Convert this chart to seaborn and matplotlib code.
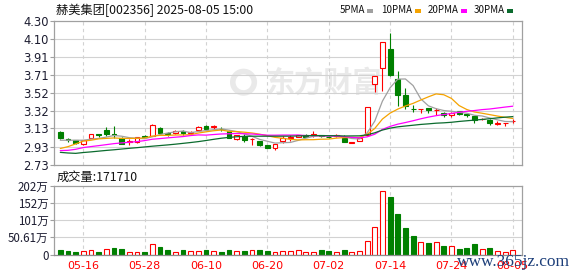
import numpy as np
import pandas as pd
import matplotlib
matplotlib.use("Agg")
import matplotlib.pyplot as plt
from matplotlib.patches import Rectangle
import seaborn as sns

# ---------------- data ----------------
dates = ["05-13", "05-14", "05-15", "05-16", "05-19", "05-20", "05-21", "05-22", "05-23",
         "05-26", "05-27", "05-28", "05-29", "05-30", "06-03", "06-04", "06-05", "06-06",
         "06-09", "06-10", "06-11", "06-12", "06-13", "06-16", "06-17", "06-18", "06-19",
         "06-20", "06-23", "06-24", "06-25", "06-26", "06-27", "06-30", "07-01", "07-02",
         "07-03", "07-04", "07-07", "07-08", "07-09", "07-10", "07-11", "07-14", "07-15",
         "07-16", "07-17", "07-18", "07-21", "07-22", "07-23", "07-24", "07-25", "07-28",
         "07-29", "07-30", "07-31", "08-01", "08-04", "08-05"]

opens = [3.09, 3.01, 3.00, 2.96, 3.02, 3.065, 3.11, 3.07, 3.02, 2.98,
         2.98, 3.045, 3.05, 3.13, 3.075, 3.08, 3.10, 3.08, 3.11, 3.16,
         3.14, 3.125, 3.10, 3.01, 3.05, 3.01, 2.99, 2.95, 2.91, 2.99,
         3.025, 3.03, 3.06, 3.06, 3.055, 3.035, 3.05, 3.02, 2.97, 2.99,
         3.06, 3.61, 3.79, 4.00, 3.67, 3.49, 3.345, 3.34, 3.35, 3.33,
         3.30, 3.27, 3.32, 3.285, 3.26, 3.23, 3.22, 3.18, 3.185, 3.205]
highs = [3.10, 3.02, 3.00, 3.00, 3.07, 3.07, 3.14, 3.15, 3.03, 3.01,
         3.03, 3.06, 3.18, 3.14, 3.09, 3.11, 3.11, 3.10, 3.15, 3.17,
         3.17, 3.14, 3.11, 3.06, 3.07, 3.02, 2.99, 2.95, 2.96, 3.05,
         3.06, 3.06, 3.07, 3.10, 3.06, 3.05, 3.07, 3.06, 2.98, 3.02,
         3.36, 3.70, 4.07, 4.17, 3.75, 3.57, 3.38, 3.345, 3.35, 3.35,
         3.31, 3.31, 3.32, 3.29, 3.26, 3.24, 3.23, 3.21, 3.19, 3.23]
lows = [3.01, 2.98, 2.96, 2.95, 3.02, 3.04, 3.05, 3.02, 2.96, 2.95,
        2.97, 3.02, 3.05, 3.07, 3.05, 3.07, 3.06, 3.06, 3.11, 3.12,
        3.12, 3.10, 3.02, 3.00, 2.98, 2.95, 2.94, 2.92, 2.89, 2.97,
        2.99, 3.03, 3.04, 3.03, 3.03, 3.02, 3.04, 2.98, 2.97, 2.99,
        3.06, 3.53, 3.54, 3.70, 3.37, 3.34, 3.31, 3.30, 3.30, 3.27,
        3.25, 3.25, 3.27, 3.25, 3.19, 3.22, 3.17, 3.17, 3.15, 3.19]
closes = [3.02, 3.00, 2.97, 3.00, 3.07, 3.06, 3.07, 3.06, 2.96, 2.99,
          3.03, 3.04, 3.17, 3.08, 3.07, 3.10, 3.08, 3.085, 3.14, 3.12,
          3.15, 3.12, 3.02, 3.06, 3.00, 3.015, 2.95, 2.92, 2.96, 3.02,
          3.03, 3.06, 3.04, 3.065, 3.05, 3.03, 3.055, 2.98, 2.98, 3.02,
          3.36, 3.70, 4.07, 3.71, 3.49, 3.37, 3.34, 3.345, 3.33, 3.335,
          3.27, 3.30, 3.29, 3.28, 3.22, 3.232, 3.19, 3.19, 3.19, 3.21]

# volume in 万
volumes = [12, 10, 6, 9, 12, 6, 15, 18, 16, 8,
           8, 6, 32, 21, 13, 8, 12, 11, 11, 12,
           10, 6, 12, 9, 9, 12, 12, 10, 8, 11,
           9, 14, 8, 8, 12, 9, 8, 12, 6, 11,
           39, 81, 186, 171, 118, 79, 55, 37, 34, 37,
           26, 26, 17, 20, 31, 16, 20, 10, 8, 13]
vol_up = [0, 0, 0, 1, 1, 0, 1, 0, 0, 1,
          1, 0, 1, 0, 0, 1, 0, 1, 1, 0,
          1, 0, 0, 1, 0, 1, 0, 0, 1, 1,
          1, 1, 1, 1, 0, 0, 1, 0, 1, 1,
          1, 1, 1, 0, 0, 0, 0, 1, 0, 1,
          0, 1, 0, 0, 0, 1, 0, 1, 1, 1]

# moving-average values before enough history is inside the window
ma5_head = [3.00, 3.00, 3.00, 3.00]
ma10_head = [2.91, 2.93, 2.96, 2.99, 3.00, 3.015, 3.02, 3.025, 3.02]
ma20_head = [2.887, 2.890, 2.901, 2.920, 2.931, 2.941, 2.952, 2.963, 2.971, 2.978,
             2.985, 2.996, 3.011, 3.018, 3.026, 3.033, 3.040, 3.051, 3.058]
ma30_head = [2.868, 2.861, 2.857, 2.866, 2.873, 2.881, 2.889, 2.896, 2.904, 2.912,
             2.919, 2.927, 2.935, 2.942, 2.949, 2.957, 2.966, 2.975, 2.985, 2.997,
             3.010, 3.022, 3.031, 3.038, 3.042, 3.044, 3.044, 3.044, 3.044]

price_ticks = [2.73, 2.93, 3.13, 3.32, 3.52, 3.71, 3.91, 4.10, 4.30]
vol_ticks = [0, 50.61, 101, 152, 202]
vol_tick_labels = ["0", "50.61万", "101万", "152万", "202万"]
label_dates = ["05-16", "05-28", "06-10", "06-20", "07-02", "07-14", "07-24", "08-05"]

title = "赫美集团[002356] 2025-08-05 15:00"
vol_title = "成交量:171710"
ma_names = ["5PMA", "10PMA", "20PMA", "30PMA"]

# ---------------- styling ----------------
sns.set_theme(style="white")
CJK = ["Noto Sans CJK SC", "DejaVu Sans"]
plt.rcParams["font.family"] = ["DejaVu Sans", "Noto Sans CJK SC"]

RED = "#ff0000"
GREEN = "#008000"
MA_COLORS = ["#a0a0a0", "#f5a300", "#ff00ff", "#0b6b2e"]
GRID = "#d2d2d2"
FRAME = "#a0a0a0"

df = pd.DataFrame({"date": dates, "open": opens, "high": highs, "low": lows,
                   "close": closes, "vol": volumes, "vup": vol_up})
df["i"] = np.arange(len(df))
for n, head in [(5, ma5_head), (10, ma10_head), (20, ma20_head), (30, ma30_head)]:
    ma = df["close"].rolling(n).mean()
    ma.iloc[:n - 1] = head
    df[f"ma{n}"] = ma

W, H = 578, 276
fig = plt.figure(figsize=(W / 100, H / 100), dpi=100)
fig.patch.set_facecolor("white")

L, R = 54, 522
ax = fig.add_axes([L / W, 1 - 165 / H, (R - L) / W, 144 / H])
axv = fig.add_axes([L / W, 1 - 254.5 / H, (R - L) / W, 68.5 / H])

xlim = (-0.82, 60.2)
label_idx = [dates.index(d) for d in label_dates]

# watermark (logo ring + name)
ax.scatter([0.405], [0.575], s=240, transform=ax.transAxes, facecolor="none",
           edgecolor="#e9e9e9", linewidth=4, zorder=0)
ax.text(0.575, 0.575, "东方财富", transform=ax.transAxes, fontsize=21,
        color="#e9e9e9", fontweight="bold", family=CJK, ha="center", va="center", zorder=0)

# grid
for a in (ax, axv):
    for xi in label_idx:
        a.axvline(xi, color=GRID, lw=0.8, ls=(0, (3, 3)), zorder=0.5)
for yv in price_ticks[1:-1]:
    ax.axhline(yv, color=GRID, lw=0.8, zorder=0.5)
for yv in vol_ticks[1:-1]:
    axv.axhline(yv, color=GRID, lw=0.8, zorder=0.5)

# candles
x = df["i"].to_numpy()
o = df["open"].to_numpy(); c = df["close"].to_numpy()
h = df["high"].to_numpy(); lo = df["low"].to_numpy()
up = c >= o
top = np.maximum(o, c); bot = np.minimum(o, c)
bh = np.maximum(top - bot, 0.004)
bw = 0.64
ax.vlines(x[up], top[up], h[up], color=RED, lw=0.8, zorder=2)
ax.vlines(x[up], lo[up], bot[up], color=RED, lw=0.8, zorder=2)
ax.bar(x[up], bh[up], bottom=bot[up], width=bw, facecolor="white",
       edgecolor=RED, linewidth=0.8, zorder=2)
dn = ~up
ax.vlines(x[dn], lo[dn], h[dn], color=GREEN, lw=0.8, zorder=2)
ax.bar(x[dn], bh[dn], bottom=bot[dn], width=bw, facecolor=GREEN,
       edgecolor=GREEN, linewidth=0.8, zorder=2)

# moving averages
for n, col in zip([5, 10, 20, 30], MA_COLORS):
    sns.lineplot(data=df, x="i", y=f"ma{n}", ax=ax, color=col, linewidth=0.9,
                 legend=False, zorder=3)

ax.set_xlim(*xlim)
ax.set_ylim(2.73, 4.30)
ax.set_yticks(price_ticks)
ax.set_yticklabels([f"{t:.2f}" for t in price_ticks])
ax.set_xticks([])
ax.set_xlabel(""); ax.set_ylabel("")
ax.tick_params(axis="y", length=3, width=0.8, color=FRAME, labelsize=8.3,
               labelcolor="#1c1c30", pad=1, left=True)

# volume bars
vu = df["vup"].to_numpy().astype(bool)
v = df["vol"].to_numpy()
axv.bar(x[vu], v[vu], width=bw, facecolor="white", edgecolor=RED, linewidth=0.8, zorder=2)
axv.bar(x[~vu], v[~vu], width=bw, facecolor=GREEN, edgecolor=GREEN, linewidth=0.8, zorder=2)
axv.set_xlim(*xlim)
axv.set_ylim(0, 202)
axv.set_yticks(vol_ticks)
axv.set_yticklabels(vol_tick_labels)
axv.set_xticks(label_idx)
axv.set_xticklabels(label_dates)
axv.tick_params(axis="y", length=3, width=0.8, color=FRAME, labelsize=8.3,
                labelcolor="#1c1c30", pad=1, left=True)
axv.tick_params(axis="x", length=0, labelsize=8, labelcolor=RED, pad=5)
for lbl in axv.get_yticklabels():
    lbl.set_fontfamily(CJK)

for a in (ax, axv):
    for s in a.spines.values():
        s.set_color(FRAME)
        s.set_linewidth(0.9)
        s.set_visible(True)
    a.set_facecolor("white")
axv.spines["bottom"].set_color("#8c8c8c")

# header texts
fig.text(56 / W, 1 - 10 / H, title, fontsize=8.8, family=CJK, color="#111111",
         ha="left", va="center")
fig.text(57 / W, 1 - 177.5 / H, vol_title, fontsize=8.8, family=CJK, color="#111111",
         ha="left", va="center")
leg_x = [340, 381, 428, 474]
sq_x = [367, 415, 461, 507]
for name, lx, sx, col in zip(ma_names, leg_x, sq_x, MA_COLORS):
    fig.text(lx / W, 1 - 10 / H, name, fontsize=7, family=CJK, color="#111111",
             ha="left", va="center")
    fig.patches.append(Rectangle((sx / W, 1 - 13 / H), 6 / W, 4 / H,
                                 transform=fig.transFigure, facecolor=col,
                                 edgecolor="none"))

# site watermark (overlaps the last date labels, as in the source image)
fig.text(457 / W, 1 - 262 / H, "www.365jz.com", fontsize=12.5,
         family=["Liberation Serif", "DejaVu Serif"], color="#1d3f7a",
         ha="left", va="center", zorder=10)

fig.savefig("out.png", dpi=100, facecolor="white")
